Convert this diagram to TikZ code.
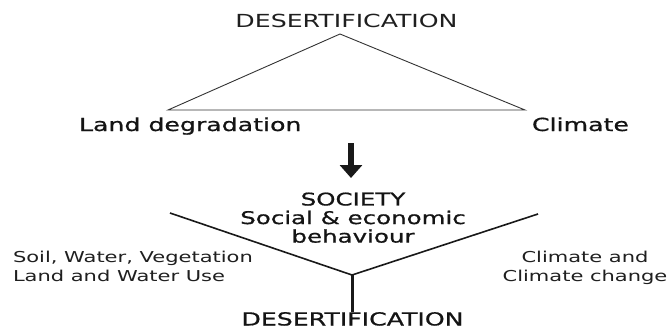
\documentclass[tikz,border=0pt]{standalone}
\usepackage{fontspec}
\usepackage{graphicx}
\setmainfont{DejaVu Sans}
\newfontfamily\heavyfont{DejaVu Sans}[FakeBold=0.7]
\usetikzlibrary{arrows.meta}
% horizontally widened lettering
\newcommand\widetext[2]{\fontsize{#1}{#1}\selectfont\scalebox{1.4}[1]{#2}}
\newcommand\widestack[3]{\fontsize{#1}{#2}\selectfont\scalebox{1.4}[1]{\begin{tabular}{@{}c@{}}#3\end{tabular}}}
\newcommand\widestackl[3]{\fontsize{#1}{#2}\selectfont\scalebox{1.4}[1]{\begin{tabular}{@{}l@{}}#3\end{tabular}}}
\begin{document}
\begin{tikzpicture}[x=1pt,y=-1pt,
  label/.style={inner sep=0pt,outer sep=0pt,text=black!88},
  heavy/.style={label,font=\heavyfont,text=black!92},
  thinline/.style={draw=black!80,line width=0.9pt},
  armline/.style={draw=black!90,line width=1.6pt},
  stemline/.style={draw=black!90,line width=3pt}]
  \useasboundingbox[fill=white] (0,0) rectangle (669,329);

  % top triangle
  \node[label,anchor=base] (top) at (346.5,28) {\widetext{18}{DESERTIFICATION}};
  \coordinate (apex) at (340,34);
  \coordinate (lc) at (168,110);
  \coordinate (rc) at (525,110);
  \draw[thinline] (apex) -- (lc) -- (rc) -- cycle;
  \node[heavy,anchor=base west] (land) at (79,131) {\widetext{18}{Land degradation}};
  \node[heavy,anchor=base west] (clim) at (532,131) {\widetext{18}{Climate}};

  % downward arrow
  \coordinate (arrA) at (351,143);
  \coordinate (arrB) at (351,178);
  \draw[line width=6pt,black!90,-{Triangle[width=22pt,length=13pt]}] (arrA) -- (arrB);

  % society block
  \node[heavy,anchor=north] (soc) at (353,192.5) {\widestack{17.5}{17.5}{SOCIETY\\Social \& economic\\behaviour}};

  % the Y
  \coordinate (la) at (170,213);
  \coordinate (ra) at (538,214);
  \coordinate (jn) at (352,275);
  \coordinate (st) at (352,312);
  \draw[armline] (la) -- (jn) -- (ra);
  \draw[stemline] (jn) -- (st);

  \node[label,anchor=north west] (left) at (13,249) {\widestackl{15}{19}{Soil, Water, Vegetation\\Land and Water Use}};
  \node[label,anchor=north] (right) at (585,249) {\widestack{15}{19}{Climate and\\Climate change}};

  \node[heavy,anchor=base] (bot) at (352.5,325.5) {\widetext{18}{DESERTIFICATION}};
\end{tikzpicture}
\end{document}
